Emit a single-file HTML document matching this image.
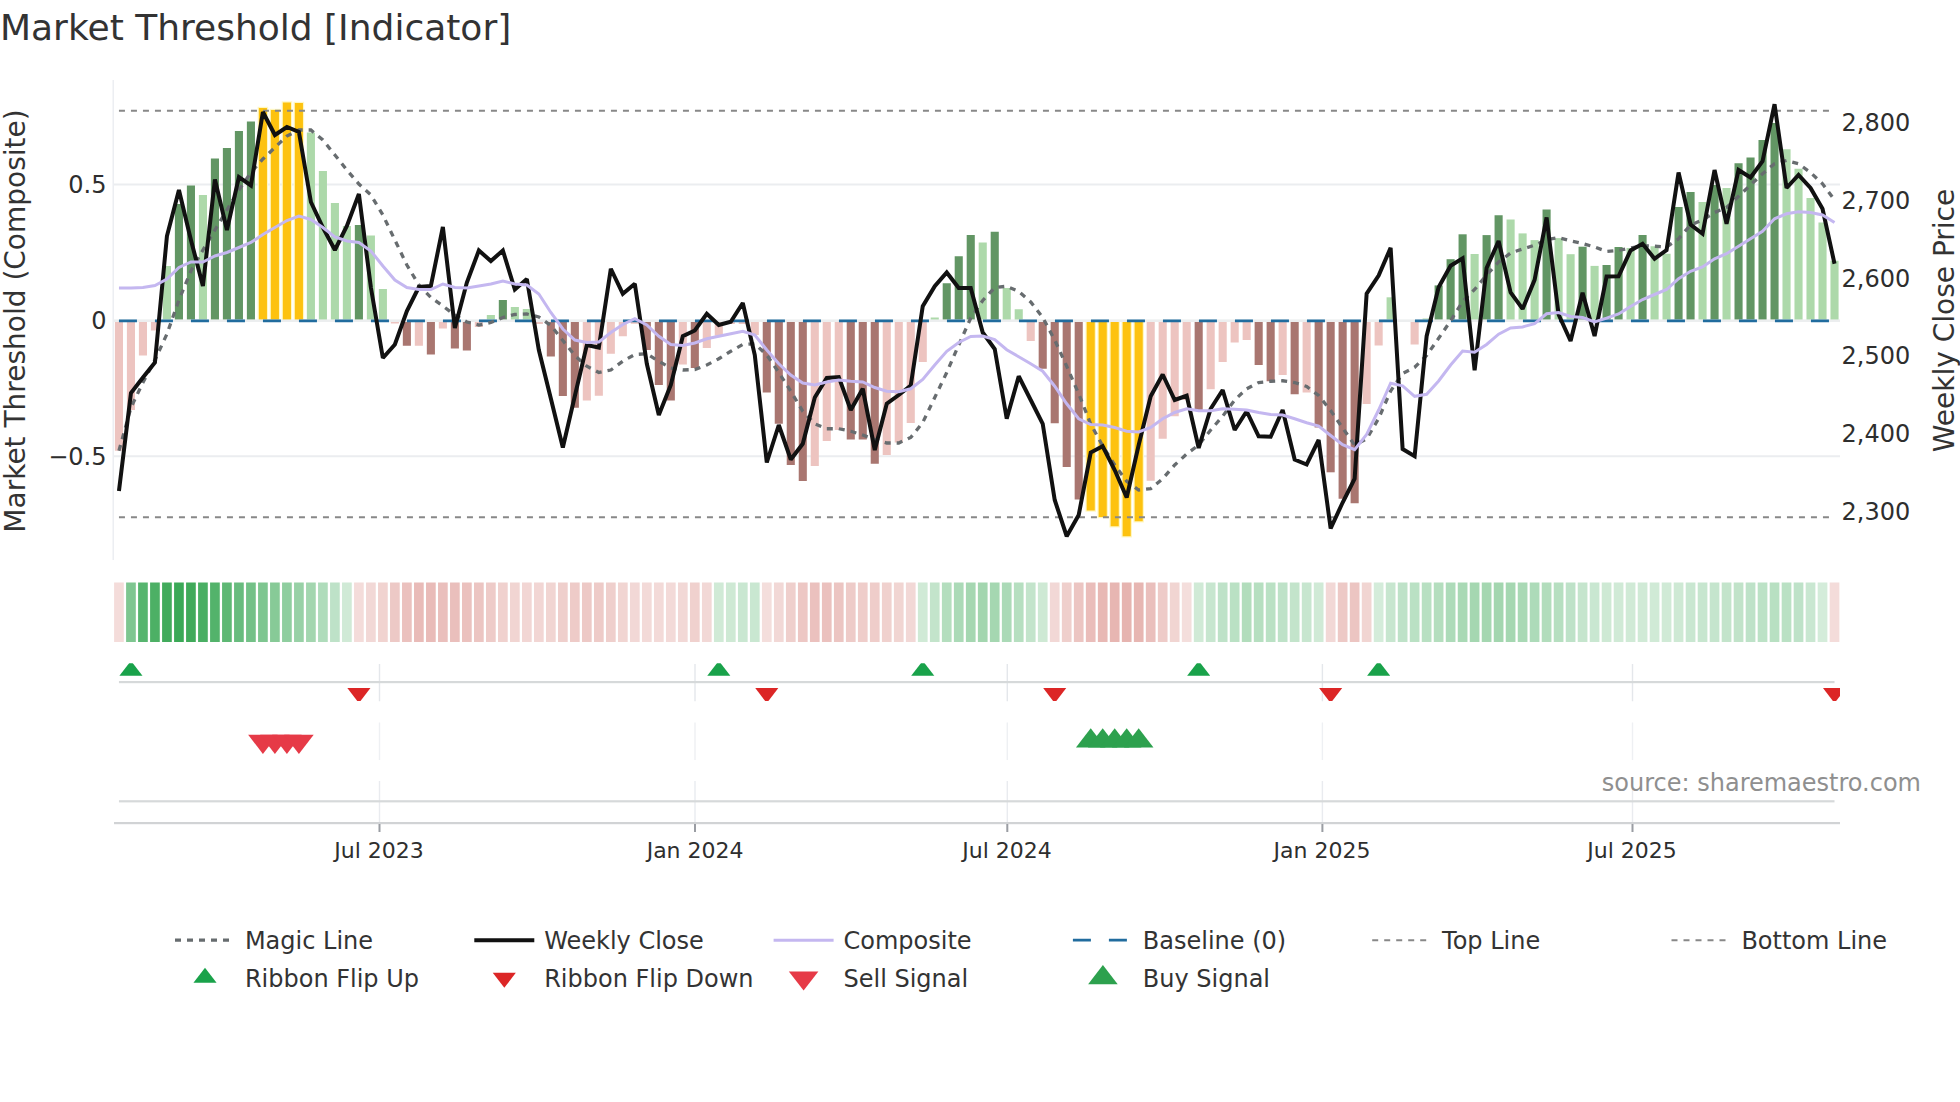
<!DOCTYPE html>
<html><head><meta charset="utf-8"><title>Market Threshold [Indicator]</title>
<style>html,body{margin:0;padding:0;background:#fff}svg{display:block}</style></head>
<body><svg width="1960" height="1102" viewBox="0 0 1960 1102" font-family="'DejaVu Sans','Liberation Sans',sans-serif">
<rect width="1960" height="1102" fill="#fff"/>
<rect x="114" y="183.5" width="1726" height="2" fill="#ebedf0"/>
<rect x="114" y="455.25" width="1726" height="2" fill="#ebedf0"/>
<rect x="112.5" y="80" width="1.5" height="480" fill="#eceef2"/>
<g shape-rendering="auto">
<rect x="114.9" y="320.5" width="8.1" height="130.25" fill="#edc4c0"/>
<rect x="126.9" y="320.5" width="8.1" height="89.5" fill="#edc4c0"/>
<rect x="138.89" y="320.5" width="8.1" height="35" fill="#edc4c0"/>
<rect x="150.89" y="320.5" width="8.1" height="10" fill="#edc4c0"/>
<rect x="162.89" y="266" width="8.1" height="54.5" fill="#add9aa"/>
<rect x="174.88" y="204" width="8.1" height="116.5" fill="#629664"/>
<rect x="186.88" y="185.5" width="8.1" height="135" fill="#629664"/>
<rect x="198.88" y="195" width="8.1" height="125.5" fill="#add9aa"/>
<rect x="210.88" y="158.5" width="8.1" height="162" fill="#629664"/>
<rect x="222.87" y="148" width="8.1" height="172.5" fill="#629664"/>
<rect x="234.87" y="131" width="8.1" height="189.5" fill="#629664"/>
<rect x="246.87" y="121.5" width="8.1" height="199" fill="#629664"/>
<rect x="257.66" y="106.8" width="10.5" height="213.7" fill="#fff7c2"/>
<rect x="258.86" y="108" width="8.1" height="212.5" fill="#fdc20f"/>
<rect x="269.66" y="108.8" width="10.5" height="211.7" fill="#fff7c2"/>
<rect x="270.86" y="110" width="8.1" height="210.5" fill="#fdc20f"/>
<rect x="281.66" y="101.3" width="10.5" height="219.2" fill="#fff7c2"/>
<rect x="282.86" y="102.5" width="8.1" height="218" fill="#fdc20f"/>
<rect x="293.65" y="101.8" width="10.5" height="218.7" fill="#fff7c2"/>
<rect x="294.85" y="103" width="8.1" height="217.5" fill="#fdc20f"/>
<rect x="306.85" y="132.5" width="8.1" height="188" fill="#add9aa"/>
<rect x="318.85" y="171" width="8.1" height="149.5" fill="#add9aa"/>
<rect x="330.85" y="203" width="8.1" height="117.5" fill="#add9aa"/>
<rect x="342.84" y="226" width="8.1" height="94.5" fill="#add9aa"/>
<rect x="354.84" y="225" width="8.1" height="95.5" fill="#629664"/>
<rect x="366.84" y="235.5" width="8.1" height="85" fill="#add9aa"/>
<rect x="378.83" y="289" width="8.1" height="31.5" fill="#add9aa"/>
<rect x="390.83" y="320.5" width="8.1" height="3" fill="#edc4c0"/>
<rect x="402.83" y="320.5" width="8.1" height="25.25" fill="#a97670"/>
<rect x="414.82" y="320.5" width="8.1" height="25.25" fill="#edc4c0"/>
<rect x="426.82" y="320.5" width="8.1" height="34" fill="#a97670"/>
<rect x="438.82" y="320.5" width="8.1" height="8" fill="#edc4c0"/>
<rect x="450.82" y="320.5" width="8.1" height="28" fill="#a97670"/>
<rect x="462.81" y="320.5" width="8.1" height="30" fill="#a97670"/>
<rect x="474.81" y="320.5" width="8.1" height="6.5" fill="#edc4c0"/>
<rect x="486.81" y="315" width="8.1" height="5.5" fill="#add9aa"/>
<rect x="498.8" y="300" width="8.1" height="20.5" fill="#629664"/>
<rect x="510.8" y="307" width="8.1" height="13.5" fill="#add9aa"/>
<rect x="522.8" y="309" width="8.1" height="11.5" fill="#add9aa"/>
<rect x="534.8" y="320.5" width="8.1" height="3.5" fill="#edc4c0"/>
<rect x="546.79" y="320.5" width="8.1" height="36" fill="#a97670"/>
<rect x="558.79" y="320.5" width="8.1" height="75.5" fill="#a97670"/>
<rect x="570.79" y="320.5" width="8.1" height="87.25" fill="#a97670"/>
<rect x="582.78" y="320.5" width="8.1" height="80" fill="#edc4c0"/>
<rect x="594.78" y="320.5" width="8.1" height="75.25" fill="#edc4c0"/>
<rect x="606.78" y="320.5" width="8.1" height="33.25" fill="#edc4c0"/>
<rect x="618.77" y="320.5" width="8.1" height="15.75" fill="#edc4c0"/>
<rect x="630.77" y="320.5" width="8.1" height="3.25" fill="#edc4c0"/>
<rect x="642.77" y="320.5" width="8.1" height="29.5" fill="#a97670"/>
<rect x="654.77" y="320.5" width="8.1" height="64.5" fill="#a97670"/>
<rect x="666.76" y="320.5" width="8.1" height="80" fill="#a97670"/>
<rect x="678.76" y="320.5" width="8.1" height="44" fill="#edc4c0"/>
<rect x="690.76" y="320.5" width="8.1" height="47.5" fill="#a97670"/>
<rect x="702.75" y="320.5" width="8.1" height="27.5" fill="#edc4c0"/>
<rect x="714.75" y="320.5" width="8.1" height="15.25" fill="#edc4c0"/>
<rect x="726.75" y="320.5" width="8.1" height="3.5" fill="#edc4c0"/>
<rect x="738.74" y="320.5" width="8.1" height="3.5" fill="#edc4c0"/>
<rect x="750.74" y="320.5" width="8.1" height="14.5" fill="#edc4c0"/>
<rect x="762.74" y="320.5" width="8.1" height="72" fill="#a97670"/>
<rect x="774.74" y="320.5" width="8.1" height="103.25" fill="#a97670"/>
<rect x="786.73" y="320.5" width="8.1" height="144.5" fill="#a97670"/>
<rect x="798.73" y="320.5" width="8.1" height="160.5" fill="#a97670"/>
<rect x="810.73" y="320.5" width="8.1" height="145.5" fill="#edc4c0"/>
<rect x="822.72" y="320.5" width="8.1" height="120.5" fill="#edc4c0"/>
<rect x="834.72" y="320.5" width="8.1" height="109.5" fill="#edc4c0"/>
<rect x="846.72" y="320.5" width="8.1" height="119" fill="#a97670"/>
<rect x="858.71" y="320.5" width="8.1" height="119" fill="#a97670"/>
<rect x="870.71" y="320.5" width="8.1" height="143.25" fill="#a97670"/>
<rect x="882.71" y="320.5" width="8.1" height="134.5" fill="#edc4c0"/>
<rect x="894.71" y="320.5" width="8.1" height="122" fill="#edc4c0"/>
<rect x="906.7" y="320.5" width="8.1" height="102.5" fill="#edc4c0"/>
<rect x="918.7" y="320.5" width="8.1" height="41.5" fill="#edc4c0"/>
<rect x="930.7" y="317.5" width="8.1" height="3" fill="#add9aa"/>
<rect x="942.69" y="283.25" width="8.1" height="37.25" fill="#629664"/>
<rect x="954.69" y="256.25" width="8.1" height="64.25" fill="#629664"/>
<rect x="966.69" y="235" width="8.1" height="85.5" fill="#629664"/>
<rect x="978.68" y="242.5" width="8.1" height="78" fill="#add9aa"/>
<rect x="990.68" y="231.75" width="8.1" height="88.75" fill="#629664"/>
<rect x="1002.68" y="288" width="8.1" height="32.5" fill="#add9aa"/>
<rect x="1014.68" y="309.25" width="8.1" height="11.25" fill="#add9aa"/>
<rect x="1026.67" y="320.5" width="8.1" height="20.5" fill="#edc4c0"/>
<rect x="1038.67" y="320.5" width="8.1" height="48.25" fill="#a97670"/>
<rect x="1050.67" y="320.5" width="8.1" height="102.75" fill="#a97670"/>
<rect x="1062.66" y="320.5" width="8.1" height="146.5" fill="#a97670"/>
<rect x="1074.66" y="320.5" width="8.1" height="179" fill="#a97670"/>
<rect x="1085.46" y="320.5" width="10.5" height="191.2" fill="#fff7c2"/>
<rect x="1086.66" y="320.5" width="8.1" height="190" fill="#fdc20f"/>
<rect x="1097.45" y="320.5" width="10.5" height="197.7" fill="#fff7c2"/>
<rect x="1098.65" y="320.5" width="8.1" height="196.5" fill="#fdc20f"/>
<rect x="1109.45" y="320.5" width="10.5" height="206.95" fill="#fff7c2"/>
<rect x="1110.65" y="320.5" width="8.1" height="205.75" fill="#fdc20f"/>
<rect x="1121.45" y="320.5" width="10.5" height="216.95" fill="#fff7c2"/>
<rect x="1122.65" y="320.5" width="8.1" height="215.75" fill="#fdc20f"/>
<rect x="1133.44" y="320.5" width="10.5" height="201.95" fill="#fff7c2"/>
<rect x="1134.64" y="320.5" width="8.1" height="200.75" fill="#fdc20f"/>
<rect x="1146.64" y="320.5" width="8.1" height="160.25" fill="#edc4c0"/>
<rect x="1158.64" y="320.5" width="8.1" height="118.25" fill="#edc4c0"/>
<rect x="1170.64" y="320.5" width="8.1" height="95.75" fill="#edc4c0"/>
<rect x="1182.63" y="320.5" width="8.1" height="79.5" fill="#edc4c0"/>
<rect x="1194.63" y="320.5" width="8.1" height="89.5" fill="#a97670"/>
<rect x="1206.63" y="320.5" width="8.1" height="68.75" fill="#edc4c0"/>
<rect x="1218.62" y="320.5" width="8.1" height="41.5" fill="#edc4c0"/>
<rect x="1230.62" y="320.5" width="8.1" height="22" fill="#edc4c0"/>
<rect x="1242.62" y="320.5" width="8.1" height="19.5" fill="#edc4c0"/>
<rect x="1254.62" y="320.5" width="8.1" height="44.5" fill="#a97670"/>
<rect x="1266.61" y="320.5" width="8.1" height="60.75" fill="#a97670"/>
<rect x="1278.61" y="320.5" width="8.1" height="54.5" fill="#edc4c0"/>
<rect x="1290.61" y="320.5" width="8.1" height="73.75" fill="#a97670"/>
<rect x="1302.6" y="320.5" width="8.1" height="72" fill="#edc4c0"/>
<rect x="1314.6" y="320.5" width="8.1" height="107" fill="#a97670"/>
<rect x="1326.6" y="320.5" width="8.1" height="151.8" fill="#a97670"/>
<rect x="1338.59" y="320.5" width="8.1" height="178.25" fill="#a97670"/>
<rect x="1350.59" y="320.5" width="8.1" height="182.75" fill="#a97670"/>
<rect x="1362.59" y="320.5" width="8.1" height="83.5" fill="#edc4c0"/>
<rect x="1374.59" y="320.5" width="8.1" height="25" fill="#edc4c0"/>
<rect x="1386.58" y="297.3" width="8.1" height="23.2" fill="#add9aa"/>
<rect x="1398.58" y="320" width="8.1" height="0.5" fill="#add9aa"/>
<rect x="1410.58" y="320.5" width="8.1" height="24" fill="#edc4c0"/>
<rect x="1422.57" y="318.5" width="8.1" height="2" fill="#add9aa"/>
<rect x="1434.57" y="285.4" width="8.1" height="35.1" fill="#629664"/>
<rect x="1446.57" y="259.2" width="8.1" height="61.3" fill="#629664"/>
<rect x="1458.56" y="234.3" width="8.1" height="86.2" fill="#629664"/>
<rect x="1470.56" y="254" width="8.1" height="66.5" fill="#add9aa"/>
<rect x="1482.56" y="235.1" width="8.1" height="85.4" fill="#629664"/>
<rect x="1494.56" y="215.25" width="8.1" height="105.25" fill="#629664"/>
<rect x="1506.55" y="219.5" width="8.1" height="101" fill="#add9aa"/>
<rect x="1518.55" y="233.4" width="8.1" height="87.1" fill="#add9aa"/>
<rect x="1530.55" y="240.1" width="8.1" height="80.4" fill="#add9aa"/>
<rect x="1542.54" y="209.5" width="8.1" height="111" fill="#629664"/>
<rect x="1554.54" y="238.1" width="8.1" height="82.4" fill="#add9aa"/>
<rect x="1566.54" y="254.2" width="8.1" height="66.3" fill="#add9aa"/>
<rect x="1578.53" y="246.7" width="8.1" height="73.8" fill="#629664"/>
<rect x="1590.53" y="265.9" width="8.1" height="54.6" fill="#add9aa"/>
<rect x="1602.53" y="265" width="8.1" height="55.5" fill="#629664"/>
<rect x="1614.53" y="247" width="8.1" height="73.5" fill="#629664"/>
<rect x="1626.52" y="248" width="8.1" height="72.5" fill="#add9aa"/>
<rect x="1638.52" y="235" width="8.1" height="85.5" fill="#629664"/>
<rect x="1650.52" y="246.25" width="8.1" height="74.25" fill="#add9aa"/>
<rect x="1662.51" y="253.75" width="8.1" height="66.75" fill="#add9aa"/>
<rect x="1674.51" y="207" width="8.1" height="113.5" fill="#629664"/>
<rect x="1686.51" y="192" width="8.1" height="128.5" fill="#629664"/>
<rect x="1698.5" y="202" width="8.1" height="118.5" fill="#add9aa"/>
<rect x="1710.5" y="185" width="8.1" height="135.5" fill="#629664"/>
<rect x="1722.5" y="188" width="8.1" height="132.5" fill="#add9aa"/>
<rect x="1734.5" y="163.25" width="8.1" height="157.25" fill="#629664"/>
<rect x="1746.49" y="157.5" width="8.1" height="163" fill="#629664"/>
<rect x="1758.49" y="140" width="8.1" height="180.5" fill="#629664"/>
<rect x="1770.49" y="123" width="8.1" height="197.5" fill="#629664"/>
<rect x="1782.48" y="149.25" width="8.1" height="171.25" fill="#add9aa"/>
<rect x="1794.48" y="168.75" width="8.1" height="151.75" fill="#add9aa"/>
<rect x="1806.48" y="198" width="8.1" height="122.5" fill="#add9aa"/>
<rect x="1818.47" y="222.5" width="8.1" height="98" fill="#add9aa"/>
<rect x="1830.47" y="260.75" width="8.1" height="59.75" fill="#add9aa"/>
</g>
<rect x="114" y="319.4" width="1726" height="2.6" fill="#eceeef"/>
<path d="M118.95,320.8H1834.52" stroke="#216c9e" stroke-width="2.8" stroke-dasharray="18 18" fill="none"/>
<path d="M118.95,110.8H1834.52" stroke="#888" stroke-width="2" stroke-dasharray="6 6" fill="none"/>
<path d="M118.95,517.3H1834.52" stroke="#888" stroke-width="2" stroke-dasharray="6 6" fill="none"/>
<path d="M118.95,450.75L130.95,407.5L142.94,382.5L154.94,360L166.94,334L178.94,300L190.93,271L202.93,250L214.93,230L226.92,210L238.92,190L250.92,172.5L262.91,159L274.91,147.5L286.91,136L298.9,130L310.9,130L322.9,140L334.9,155L346.89,170L358.89,184L370.89,195L382.88,215L394.88,240L406.88,265L418.88,285L430.87,297.5L442.87,306L454.87,315L466.86,322L478.86,325L490.86,322.5L502.85,317.5L514.85,314.5L526.85,314L538.85,317L550.84,325.5L562.84,340.5L574.84,355.5L586.83,366.25L598.83,372.5L610.83,370L622.82,361.25L634.82,354.5L646.82,353.75L658.82,361.25L670.81,368L682.81,370L694.81,369.5L706.8,365L718.8,358.75L730.8,351.25L742.79,344.5L754.79,343.75L766.79,355L778.79,372.5L790.78,391.25L802.78,411.25L814.78,423.75L826.77,428.75L838.77,428.75L850.77,431.25L862.76,435L874.76,439.5L886.76,443L898.75,443L910.75,437.5L922.75,422.5L934.75,397.5L946.74,372.5L958.74,345L970.74,318L982.73,300.5L994.73,287.5L1006.73,286.25L1018.73,291.5L1030.72,302L1042.72,317.5L1054.72,340L1066.71,366.25L1078.71,393.75L1090.71,424L1102.7,446L1114.7,465L1126.7,481.25L1138.69,490L1150.69,488.75L1162.69,478.75L1174.69,465L1186.68,454L1198.68,445L1210.68,430L1222.67,416.25L1234.67,400L1246.67,388.75L1258.66,382.5L1270.66,381.25L1282.66,380.75L1294.66,382.5L1306.65,386.5L1318.65,395.5L1330.65,410.5L1342.64,428L1354.64,445L1366.64,439L1378.63,418.5L1390.63,391L1402.63,373.5L1414.63,367.3L1426.62,355.5L1438.62,338.3L1450.62,320.8L1462.61,301.5L1474.61,289.5L1486.61,275L1498.61,262L1510.6,253L1522.6,249L1534.6,245.2L1546.59,239.7L1558.59,237.6L1570.59,240.8L1582.58,243.5L1594.58,247L1606.58,251.4L1618.58,250.4L1630.57,248L1642.57,245.75L1654.57,246.25L1666.56,247L1678.56,238.75L1690.56,225L1702.55,220L1714.55,212.5L1726.55,207.5L1738.55,196.25L1750.54,185L1762.54,173.75L1774.54,163.75L1786.53,160.5L1798.53,163.75L1810.53,172.5L1822.52,183.75L1834.52,200" stroke="#676c6f" stroke-width="3.3" stroke-dasharray="6 6" stroke-linejoin="miter" stroke-miterlimit="2" fill="none"/>
<path d="M118.95,491L130.95,393L142.94,377.5L154.94,362.5L166.94,236L178.94,190L190.93,240L202.93,286L214.93,179.5L226.92,230L238.92,177L250.92,185.5L262.91,112L274.91,135L286.91,127L298.9,132L310.9,202L322.9,227.5L334.9,250L346.89,226L358.89,194L370.89,287.5L382.88,358L394.88,344.5L406.88,311L418.88,287L430.87,286L442.87,227L454.87,328L466.86,282.5L478.86,250.5L490.86,261L502.85,250.5L514.85,289.5L526.85,279L538.85,350L550.84,398.5L562.84,447.5L574.84,396L586.83,345L598.83,347.5L610.83,268.75L622.82,293.75L634.82,283.75L646.82,363.75L658.82,415L670.81,385L682.81,336.25L694.81,330.5L706.8,313.75L718.8,325L730.8,321.75L742.79,303L754.79,355L766.79,462.5L778.79,425L790.78,459.5L802.78,443.75L814.78,397.5L826.77,378L838.77,377L850.77,410L862.76,388.75L874.76,450L886.76,403.75L898.75,395L910.75,385.5L922.75,306.25L934.75,286.25L946.74,272.5L958.74,288L970.74,288L982.73,332.5L994.73,349L1006.73,418.75L1018.73,376.25L1030.72,400L1042.72,423.75L1054.72,500L1066.71,536.25L1078.71,515L1090.71,452.5L1102.7,446.25L1114.7,470L1126.7,497.5L1138.69,445L1150.69,396.25L1162.69,374.5L1174.69,400L1186.68,395.75L1198.68,448L1210.68,408.75L1222.67,390L1234.67,430L1246.67,411.25L1258.66,436.25L1270.66,436.75L1282.66,410L1294.66,459.5L1306.65,464.5L1318.65,440L1330.65,528.5L1342.64,502.5L1354.64,478.75L1366.64,293.7L1378.63,275.6L1390.63,247.8L1402.63,449L1414.63,456.2L1426.62,336.2L1438.62,287.3L1450.62,265.8L1462.61,258.4L1474.61,370.3L1486.61,268L1498.61,241L1510.6,292.4L1522.6,308.9L1534.6,279.8L1546.59,217.5L1558.59,314.5L1570.59,341L1582.58,292.8L1594.58,336L1606.58,276.5L1618.58,276.3L1630.57,250.4L1642.57,243.75L1654.57,258.75L1666.56,250L1678.56,172.5L1690.56,224.5L1702.55,233.75L1714.55,170L1726.55,223.75L1738.55,170L1750.54,177.5L1762.54,161.25L1774.54,104.25L1786.53,188L1798.53,175L1810.53,188L1822.52,208.75L1834.52,263.75" stroke="#111" stroke-width="4" stroke-linejoin="miter" stroke-miterlimit="2" fill="none"/>
<path d="M118.95,288L130.95,288L142.94,287.5L154.94,285.5L166.94,279L178.94,267.5L190.93,262L202.93,262L214.93,256L226.92,252.5L238.92,247.5L250.92,242.5L262.91,234.5L274.91,227.5L286.91,220.5L298.9,216L310.9,219.5L322.9,227.5L334.9,237L346.89,241L358.89,242.5L370.89,251L382.88,266L394.88,280L406.88,287.5L418.88,289.5L430.87,289.5L442.87,284L454.87,287.5L466.86,288L478.86,286L490.86,284L502.85,281L514.85,284L526.85,285L538.85,294L550.84,312.5L562.84,329L574.84,340L586.83,342.5L598.83,342L610.83,332.5L622.82,324.5L634.82,318.75L646.82,325L658.82,336.25L670.81,344.5L682.81,345.5L694.81,343L706.8,338.75L718.8,336.25L730.8,333.75L742.79,331.25L754.79,335L766.79,350L778.79,363.75L790.78,375L802.78,383L814.78,385L826.77,382L838.77,380L850.77,381.25L862.76,382L874.76,387.5L886.76,391.25L898.75,391.75L910.75,388.75L922.75,379.5L934.75,365L946.74,351.25L958.74,342.5L970.74,336.5L982.73,336L994.73,339.5L1006.73,349.75L1018.73,356.75L1030.72,363.75L1042.72,371.25L1054.72,386.25L1066.71,403.75L1078.71,418.75L1090.71,424.5L1102.7,425L1114.7,427.5L1126.7,431.25L1138.69,432L1150.69,427.5L1162.69,418.75L1174.69,412.5L1186.68,408.75L1198.68,410.75L1210.68,410.75L1222.67,408.75L1234.67,409.25L1246.67,410L1258.66,412.5L1270.66,414.5L1282.66,415L1294.66,418.75L1306.65,422.7L1318.65,426L1330.65,435.5L1342.64,444.7L1354.64,449.7L1366.64,434.5L1378.63,410L1390.63,383.2L1402.63,385.9L1414.63,396.3L1426.62,394.3L1438.62,381L1450.62,365L1462.61,351.1L1474.61,352.3L1486.61,344.5L1498.61,334.2L1510.6,328L1522.6,326.9L1534.6,323.6L1546.59,313.8L1558.59,312.6L1570.59,316.5L1582.58,317.5L1594.58,322L1606.58,318.2L1618.58,314L1630.57,306.5L1642.57,299.5L1654.57,294.5L1666.56,289.5L1678.56,278.75L1690.56,271.25L1702.55,267L1714.55,258.75L1726.55,253.75L1738.55,246.25L1750.54,238.75L1762.54,231.25L1774.54,218.75L1786.53,213.75L1798.53,211.75L1810.53,212.5L1822.52,215L1834.52,222.5" stroke="#c4b7f0" stroke-width="3" fill="none" stroke-linejoin="miter" stroke-miterlimit="2"/>
<rect x="114.1" y="582.5" width="9.7" height="59.5" fill="#f4dcda"/>
<rect x="126.1" y="582.5" width="9.7" height="59.5" fill="#7ec690"/>
<rect x="138.09" y="582.5" width="9.7" height="59.5" fill="#57b56f"/>
<rect x="150.09" y="582.5" width="9.7" height="59.5" fill="#4db065"/>
<rect x="162.09" y="582.5" width="9.7" height="59.5" fill="#42ab5c"/>
<rect x="174.09" y="582.5" width="9.7" height="59.5" fill="#3ba957"/>
<rect x="186.08" y="582.5" width="9.7" height="59.5" fill="#40aa5a"/>
<rect x="198.08" y="582.5" width="9.7" height="59.5" fill="#4aaf64"/>
<rect x="210.08" y="582.5" width="9.7" height="59.5" fill="#53b36b"/>
<rect x="222.07" y="582.5" width="9.7" height="59.5" fill="#5eb874"/>
<rect x="234.07" y="582.5" width="9.7" height="59.5" fill="#68bc7e"/>
<rect x="246.07" y="582.5" width="9.7" height="59.5" fill="#73c187"/>
<rect x="258.06" y="582.5" width="9.7" height="59.5" fill="#7ec690"/>
<rect x="270.06" y="582.5" width="9.7" height="59.5" fill="#87ca97"/>
<rect x="282.06" y="582.5" width="9.7" height="59.5" fill="#8fce9f"/>
<rect x="294.05" y="582.5" width="9.7" height="59.5" fill="#98d1a6"/>
<rect x="306.05" y="582.5" width="9.7" height="59.5" fill="#a3d6af"/>
<rect x="318.05" y="582.5" width="9.7" height="59.5" fill="#afdcbb"/>
<rect x="330.05" y="582.5" width="9.7" height="59.5" fill="#bee2c8"/>
<rect x="342.04" y="582.5" width="9.7" height="59.5" fill="#d0ead6"/>
<rect x="354.04" y="582.5" width="9.7" height="59.5" fill="#f4dcda"/>
<rect x="366.04" y="582.5" width="9.7" height="59.5" fill="#f2d8d6"/>
<rect x="378.03" y="582.5" width="9.7" height="59.5" fill="#f1d3d0"/>
<rect x="390.03" y="582.5" width="9.7" height="59.5" fill="#edc9c6"/>
<rect x="402.03" y="582.5" width="9.7" height="59.5" fill="#ebc1be"/>
<rect x="414.02" y="582.5" width="9.7" height="59.5" fill="#e9bbb8"/>
<rect x="426.02" y="582.5" width="9.7" height="59.5" fill="#e9bbb8"/>
<rect x="438.02" y="582.5" width="9.7" height="59.5" fill="#eabfbc"/>
<rect x="450.02" y="582.5" width="9.7" height="59.5" fill="#eabfbc"/>
<rect x="462.01" y="582.5" width="9.7" height="59.5" fill="#ebc1be"/>
<rect x="474.01" y="582.5" width="9.7" height="59.5" fill="#ecc5c2"/>
<rect x="486.01" y="582.5" width="9.7" height="59.5" fill="#eecbc8"/>
<rect x="498" y="582.5" width="9.7" height="59.5" fill="#f0d1ce"/>
<rect x="510" y="582.5" width="9.7" height="59.5" fill="#f1d5d2"/>
<rect x="522" y="582.5" width="9.7" height="59.5" fill="#f2d6d4"/>
<rect x="534" y="582.5" width="9.7" height="59.5" fill="#f2d6d4"/>
<rect x="545.99" y="582.5" width="9.7" height="59.5" fill="#f1d5d2"/>
<rect x="557.99" y="582.5" width="9.7" height="59.5" fill="#efcfcc"/>
<rect x="569.99" y="582.5" width="9.7" height="59.5" fill="#eecbc8"/>
<rect x="581.98" y="582.5" width="9.7" height="59.5" fill="#edc9c6"/>
<rect x="593.98" y="582.5" width="9.7" height="59.5" fill="#eecbc8"/>
<rect x="605.98" y="582.5" width="9.7" height="59.5" fill="#efcfcc"/>
<rect x="617.97" y="582.5" width="9.7" height="59.5" fill="#f1d5d2"/>
<rect x="629.97" y="582.5" width="9.7" height="59.5" fill="#f2d8d6"/>
<rect x="641.97" y="582.5" width="9.7" height="59.5" fill="#f3dad8"/>
<rect x="653.97" y="582.5" width="9.7" height="59.5" fill="#f3dad8"/>
<rect x="665.96" y="582.5" width="9.7" height="59.5" fill="#f3dad8"/>
<rect x="677.96" y="582.5" width="9.7" height="59.5" fill="#f2d8d6"/>
<rect x="689.96" y="582.5" width="9.7" height="59.5" fill="#f0d1ce"/>
<rect x="701.95" y="582.5" width="9.7" height="59.5" fill="#f2d8d6"/>
<rect x="713.95" y="582.5" width="9.7" height="59.5" fill="#d0ead6"/>
<rect x="725.95" y="582.5" width="9.7" height="59.5" fill="#cee9d4"/>
<rect x="737.94" y="582.5" width="9.7" height="59.5" fill="#c9e7d1"/>
<rect x="749.94" y="582.5" width="9.7" height="59.5" fill="#c9e7d1"/>
<rect x="761.94" y="582.5" width="9.7" height="59.5" fill="#f4dedc"/>
<rect x="773.94" y="582.5" width="9.7" height="59.5" fill="#f2d8d6"/>
<rect x="785.93" y="582.5" width="9.7" height="59.5" fill="#efcfcc"/>
<rect x="797.93" y="582.5" width="9.7" height="59.5" fill="#edc7c4"/>
<rect x="809.93" y="582.5" width="9.7" height="59.5" fill="#ebc1be"/>
<rect x="821.92" y="582.5" width="9.7" height="59.5" fill="#ebc1be"/>
<rect x="833.92" y="582.5" width="9.7" height="59.5" fill="#ecc5c2"/>
<rect x="845.92" y="582.5" width="9.7" height="59.5" fill="#eecbc8"/>
<rect x="857.91" y="582.5" width="9.7" height="59.5" fill="#efcdca"/>
<rect x="869.91" y="582.5" width="9.7" height="59.5" fill="#efcdca"/>
<rect x="881.91" y="582.5" width="9.7" height="59.5" fill="#f0d1ce"/>
<rect x="893.9" y="582.5" width="9.7" height="59.5" fill="#f1d5d2"/>
<rect x="905.9" y="582.5" width="9.7" height="59.5" fill="#f2d8d6"/>
<rect x="917.9" y="582.5" width="9.7" height="59.5" fill="#d0ead6"/>
<rect x="929.9" y="582.5" width="9.7" height="59.5" fill="#c3e4cb"/>
<rect x="941.89" y="582.5" width="9.7" height="59.5" fill="#b4debe"/>
<rect x="953.89" y="582.5" width="9.7" height="59.5" fill="#abdab7"/>
<rect x="965.89" y="582.5" width="9.7" height="59.5" fill="#a5d7b1"/>
<rect x="977.88" y="582.5" width="9.7" height="59.5" fill="#a3d6af"/>
<rect x="989.88" y="582.5" width="9.7" height="59.5" fill="#a5d7b1"/>
<rect x="1001.88" y="582.5" width="9.7" height="59.5" fill="#abdab7"/>
<rect x="1013.88" y="582.5" width="9.7" height="59.5" fill="#b6dfc0"/>
<rect x="1025.87" y="582.5" width="9.7" height="59.5" fill="#c3e4cb"/>
<rect x="1037.87" y="582.5" width="9.7" height="59.5" fill="#cee9d4"/>
<rect x="1049.87" y="582.5" width="9.7" height="59.5" fill="#f2d8d6"/>
<rect x="1061.86" y="582.5" width="9.7" height="59.5" fill="#efcfcc"/>
<rect x="1073.86" y="582.5" width="9.7" height="59.5" fill="#ecc5c2"/>
<rect x="1085.86" y="582.5" width="9.7" height="59.5" fill="#eabdba"/>
<rect x="1097.85" y="582.5" width="9.7" height="59.5" fill="#e8b8b4"/>
<rect x="1109.85" y="582.5" width="9.7" height="59.5" fill="#e7b6b2"/>
<rect x="1121.85" y="582.5" width="9.7" height="59.5" fill="#e6b4b0"/>
<rect x="1133.85" y="582.5" width="9.7" height="59.5" fill="#e7b6b2"/>
<rect x="1145.84" y="582.5" width="9.7" height="59.5" fill="#eabfbc"/>
<rect x="1157.84" y="582.5" width="9.7" height="59.5" fill="#eecbc8"/>
<rect x="1169.84" y="582.5" width="9.7" height="59.5" fill="#f1d5d2"/>
<rect x="1181.83" y="582.5" width="9.7" height="59.5" fill="#f4dedc"/>
<rect x="1193.83" y="582.5" width="9.7" height="59.5" fill="#d0ead6"/>
<rect x="1205.83" y="582.5" width="9.7" height="59.5" fill="#c7e6cf"/>
<rect x="1217.82" y="582.5" width="9.7" height="59.5" fill="#bee2c8"/>
<rect x="1229.82" y="582.5" width="9.7" height="59.5" fill="#bae1c4"/>
<rect x="1241.82" y="582.5" width="9.7" height="59.5" fill="#b2ddbc"/>
<rect x="1253.82" y="582.5" width="9.7" height="59.5" fill="#b6dfc0"/>
<rect x="1265.81" y="582.5" width="9.7" height="59.5" fill="#bae1c4"/>
<rect x="1277.81" y="582.5" width="9.7" height="59.5" fill="#bee2c8"/>
<rect x="1289.81" y="582.5" width="9.7" height="59.5" fill="#c3e4cb"/>
<rect x="1301.8" y="582.5" width="9.7" height="59.5" fill="#c7e6cf"/>
<rect x="1313.8" y="582.5" width="9.7" height="59.5" fill="#d0ead6"/>
<rect x="1325.8" y="582.5" width="9.7" height="59.5" fill="#f2d8d6"/>
<rect x="1337.79" y="582.5" width="9.7" height="59.5" fill="#edc9c6"/>
<rect x="1349.79" y="582.5" width="9.7" height="59.5" fill="#ecc5c2"/>
<rect x="1361.79" y="582.5" width="9.7" height="59.5" fill="#f1d5d2"/>
<rect x="1373.79" y="582.5" width="9.7" height="59.5" fill="#d4ecda"/>
<rect x="1385.78" y="582.5" width="9.7" height="59.5" fill="#c7e6cf"/>
<rect x="1397.78" y="582.5" width="9.7" height="59.5" fill="#bee2c8"/>
<rect x="1409.78" y="582.5" width="9.7" height="59.5" fill="#bae1c4"/>
<rect x="1421.77" y="582.5" width="9.7" height="59.5" fill="#b8e0c2"/>
<rect x="1433.77" y="582.5" width="9.7" height="59.5" fill="#b4debe"/>
<rect x="1445.77" y="582.5" width="9.7" height="59.5" fill="#addbb9"/>
<rect x="1457.76" y="582.5" width="9.7" height="59.5" fill="#a9d9b5"/>
<rect x="1469.76" y="582.5" width="9.7" height="59.5" fill="#a5d7b1"/>
<rect x="1481.76" y="582.5" width="9.7" height="59.5" fill="#a5d7b1"/>
<rect x="1493.76" y="582.5" width="9.7" height="59.5" fill="#a3d6af"/>
<rect x="1505.75" y="582.5" width="9.7" height="59.5" fill="#a5d7b1"/>
<rect x="1517.75" y="582.5" width="9.7" height="59.5" fill="#a9d9b5"/>
<rect x="1529.75" y="582.5" width="9.7" height="59.5" fill="#addbb9"/>
<rect x="1541.74" y="582.5" width="9.7" height="59.5" fill="#b2ddbc"/>
<rect x="1553.74" y="582.5" width="9.7" height="59.5" fill="#b6dfc0"/>
<rect x="1565.74" y="582.5" width="9.7" height="59.5" fill="#bee2c8"/>
<rect x="1577.73" y="582.5" width="9.7" height="59.5" fill="#c5e5cd"/>
<rect x="1589.73" y="582.5" width="9.7" height="59.5" fill="#c9e7d1"/>
<rect x="1601.73" y="582.5" width="9.7" height="59.5" fill="#cee9d4"/>
<rect x="1613.73" y="582.5" width="9.7" height="59.5" fill="#d0ead6"/>
<rect x="1625.72" y="582.5" width="9.7" height="59.5" fill="#d0ead6"/>
<rect x="1637.72" y="582.5" width="9.7" height="59.5" fill="#d0ead6"/>
<rect x="1649.72" y="582.5" width="9.7" height="59.5" fill="#d0ead6"/>
<rect x="1661.71" y="582.5" width="9.7" height="59.5" fill="#d0ead6"/>
<rect x="1673.71" y="582.5" width="9.7" height="59.5" fill="#cee9d4"/>
<rect x="1685.71" y="582.5" width="9.7" height="59.5" fill="#c9e7d1"/>
<rect x="1697.7" y="582.5" width="9.7" height="59.5" fill="#c7e6cf"/>
<rect x="1709.7" y="582.5" width="9.7" height="59.5" fill="#c5e5cd"/>
<rect x="1721.7" y="582.5" width="9.7" height="59.5" fill="#c3e4cb"/>
<rect x="1733.7" y="582.5" width="9.7" height="59.5" fill="#c1e3c9"/>
<rect x="1745.69" y="582.5" width="9.7" height="59.5" fill="#bee2c8"/>
<rect x="1757.69" y="582.5" width="9.7" height="59.5" fill="#bce2c6"/>
<rect x="1769.69" y="582.5" width="9.7" height="59.5" fill="#b8e0c2"/>
<rect x="1781.68" y="582.5" width="9.7" height="59.5" fill="#bae1c4"/>
<rect x="1793.68" y="582.5" width="9.7" height="59.5" fill="#bee2c8"/>
<rect x="1805.68" y="582.5" width="9.7" height="59.5" fill="#c9e7d1"/>
<rect x="1817.67" y="582.5" width="9.7" height="59.5" fill="#d4ecda"/>
<rect x="1829.67" y="582.5" width="9.7" height="59.5" fill="#f4dcda"/>
<rect x="378.8" y="664" width="1.4" height="37.25" fill="#e4e7eb"/>
<rect x="378.8" y="722.5" width="1.4" height="37.5" fill="#eef0f3"/>
<rect x="378.8" y="781" width="1.4" height="42" fill="#e9ebef"/>
<rect x="694.3" y="664" width="1.4" height="37.25" fill="#e4e7eb"/>
<rect x="694.3" y="722.5" width="1.4" height="37.5" fill="#eef0f3"/>
<rect x="694.3" y="781" width="1.4" height="42" fill="#e9ebef"/>
<rect x="1006.5999999999999" y="664" width="1.4" height="37.25" fill="#e4e7eb"/>
<rect x="1006.5999999999999" y="722.5" width="1.4" height="37.5" fill="#eef0f3"/>
<rect x="1006.5999999999999" y="781" width="1.4" height="42" fill="#e9ebef"/>
<rect x="1321.7" y="664" width="1.4" height="37.25" fill="#e4e7eb"/>
<rect x="1321.7" y="722.5" width="1.4" height="37.5" fill="#eef0f3"/>
<rect x="1321.7" y="781" width="1.4" height="42" fill="#e9ebef"/>
<rect x="1631.8" y="664" width="1.4" height="37.25" fill="#e4e7eb"/>
<rect x="1631.8" y="722.5" width="1.4" height="37.5" fill="#eef0f3"/>
<rect x="1631.8" y="781" width="1.4" height="42" fill="#e9ebef"/>
<rect x="118.95" y="681" width="1715.57" height="2.2" fill="#d6d9da"/>
<rect x="118.95" y="800.2" width="1715.57" height="2.2" fill="#d6d9da"/>
<rect x="114" y="822" width="1726" height="2.2" fill="#d1d3d5"/>
<rect x="378.5" y="824" width="2" height="8" fill="#9a9da3"/>
<rect x="694.0" y="824" width="2" height="8" fill="#9a9da3"/>
<rect x="1006.3" y="824" width="2" height="8" fill="#9a9da3"/>
<rect x="1321.4" y="824" width="2" height="8" fill="#9a9da3"/>
<rect x="1631.5" y="824" width="2" height="8" fill="#9a9da3"/>
<defs><clipPath id="cf"><rect x="100" y="663.25" width="1740" height="37.75"/></clipPath></defs>
<g clip-path="url(#cf)">
<path d="M119.4,675.8H142.49L130.95,660.8Z" fill="#19a24a"/>
<path d="M707.25,675.8H730.35L718.8,660.8Z" fill="#19a24a"/>
<path d="M911.2,675.8H934.3L922.75,660.8Z" fill="#19a24a"/>
<path d="M1187.13,675.8H1210.23L1198.68,660.8Z" fill="#19a24a"/>
<path d="M1367.09,675.8H1390.18L1378.63,660.8Z" fill="#19a24a"/>
<path d="M347.34,688.1H370.44L358.89,703.1Z" fill="#dc2626"/>
<path d="M755.24,688.1H778.34L766.79,703.1Z" fill="#dc2626"/>
<path d="M1043.17,688.1H1066.26L1054.72,703.1Z" fill="#dc2626"/>
<path d="M1319.1,688.1H1342.19L1330.65,703.1Z" fill="#dc2626"/>
<path d="M1822.97,688.1H1846.07L1834.52,703.1Z" fill="#dc2626"/>
</g>
<path d="M248.13,734.7H277.69L262.91,753.9Z" fill="#e63a47"/>
<path d="M260.13,734.7H289.69L274.91,753.9Z" fill="#e63a47"/>
<path d="M272.13,734.7H301.69L286.91,753.9Z" fill="#e63a47"/>
<path d="M284.12,734.7H313.69L298.9,753.9Z" fill="#e63a47"/>
<path d="M1075.93,747.5H1105.49L1090.71,728.3Z" fill="#2da14e"/>
<path d="M1087.92,747.5H1117.48L1102.7,728.3Z" fill="#2da14e"/>
<path d="M1099.92,747.5H1129.48L1114.7,728.3Z" fill="#2da14e"/>
<path d="M1111.92,747.5H1141.48L1126.7,728.3Z" fill="#2da14e"/>
<path d="M1123.91,747.5H1153.48L1138.69,728.3Z" fill="#2da14e"/>
<text x="0" y="39.9" font-size="36" fill="#333">Market Threshold [Indicator]</text>
<text transform="translate(25,321) rotate(-90)" text-anchor="middle" font-size="28" fill="#333">Market Threshold (Composite)</text>
<text transform="translate(1953.5,320.5) rotate(-90)" text-anchor="middle" font-size="28" fill="#333">Weekly Close Price</text>
<text x="106.5" y="193.2" text-anchor="end" font-size="24" fill="#2e2e2e">0.5</text>
<text x="106.5" y="329.2" text-anchor="end" font-size="24" fill="#2e2e2e">0</text>
<text x="106.5" y="464.95" text-anchor="end" font-size="24" fill="#2e2e2e">−0.5</text>
<text x="1841.5" y="130.8" font-size="24" fill="#2e2e2e">2,800</text>
<text x="1841.5" y="208.67" font-size="24" fill="#2e2e2e">2,700</text>
<text x="1841.5" y="286.54" font-size="24" fill="#2e2e2e">2,600</text>
<text x="1841.5" y="364.41" font-size="24" fill="#2e2e2e">2,500</text>
<text x="1841.5" y="442.28" font-size="24" fill="#2e2e2e">2,400</text>
<text x="1841.5" y="520.15" font-size="24" fill="#2e2e2e">2,300</text>
<text x="379.0" y="858" text-anchor="middle" font-size="22" fill="#2e2e2e">Jul 2023</text>
<text x="695.1" y="858" text-anchor="middle" font-size="22" fill="#2e2e2e">Jan 2024</text>
<text x="1007.0" y="858" text-anchor="middle" font-size="22" fill="#2e2e2e">Jul 2024</text>
<text x="1322.0" y="858" text-anchor="middle" font-size="22" fill="#2e2e2e">Jan 2025</text>
<text x="1632.0" y="858" text-anchor="middle" font-size="22" fill="#2e2e2e">Jul 2025</text>
<text x="1921" y="791.3" text-anchor="end" font-size="24" fill="#8f8f8f">source: sharemaestro.com</text>
<text x="244.9" y="948.9000000000001" font-size="24" fill="#333">Magic Line</text>
<text x="544.2" y="948.9000000000001" font-size="24" fill="#333">Weekly Close</text>
<text x="843.5" y="948.9000000000001" font-size="24" fill="#333">Composite</text>
<text x="1142.8" y="948.9000000000001" font-size="24" fill="#333">Baseline (0)</text>
<text x="1442.1" y="948.9000000000001" font-size="24" fill="#333">Top Line</text>
<text x="1741.4" y="948.9000000000001" font-size="24" fill="#333">Bottom Line</text>
<text x="244.9" y="986.5" font-size="24" fill="#333">Ribbon Flip Up</text>
<text x="544.2" y="986.5" font-size="24" fill="#333">Ribbon Flip Down</text>
<text x="843.5" y="986.5" font-size="24" fill="#333">Sell Signal</text>
<text x="1142.8" y="986.5" font-size="24" fill="#333">Buy Signal</text>
<path d="M175,940.2h60" stroke="#676c6f" stroke-width="3.3" stroke-dasharray="6 6" fill="none"/>
<path d="M474.3,940.2h60" stroke="#111" stroke-width="4" fill="none"/>
<path d="M773.6,940.2h60" stroke="#c4b7f0" stroke-width="3" fill="none"/>
<path d="M1072.9,940.2h60" stroke="#216c9e" stroke-width="2.8" stroke-dasharray="18 18" fill="none"/>
<path d="M1372.2,940.2h60" stroke="#888" stroke-width="2" stroke-dasharray="6 6" fill="none"/>
<path d="M1671.5,940.2h60" stroke="#888" stroke-width="2" stroke-dasharray="6 6" fill="none"/>
<path d="M193.45,982.8H216.55L205,967.8Z" fill="#19a24a"/>
<path d="M492.75,972.8H515.85L504.3,987.8Z" fill="#dc2626"/>
<path d="M788.82,971.4H818.38L803.6,990.6Z" fill="#e63a47"/>
<path d="M1088.12,984.2H1117.68L1102.9,965Z" fill="#2da14e"/>
</svg></body></html>
